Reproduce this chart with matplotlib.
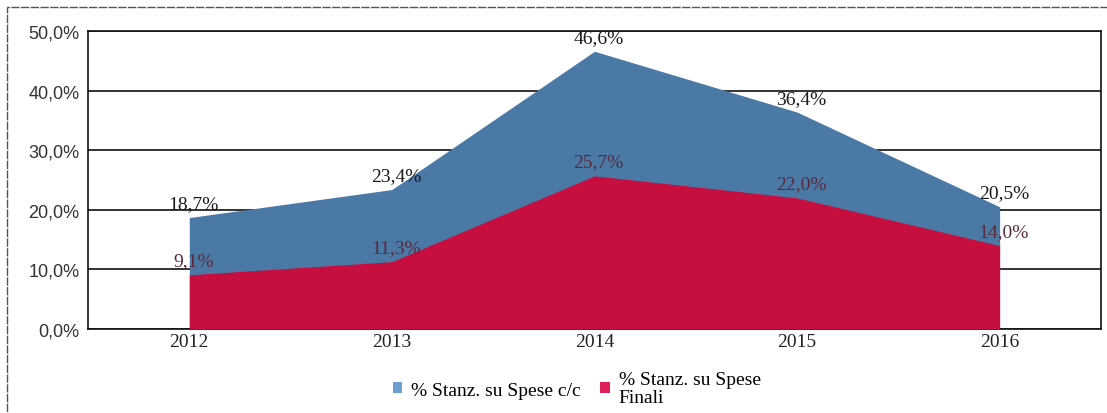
import numpy as np
import matplotlib
matplotlib.use('Agg')
import matplotlib.pyplot as plt
from matplotlib.patches import Rectangle, Patch

years = ['2012', '2013', '2014', '2015', '2016']
spese_cc = [18.7, 23.4, 46.6, 36.4, 20.5]
spese_finali = [9.1, 11.3, 25.7, 22.0, 14.0]
y_ticks = [0, 10, 20, 30, 40, 50]

blue = '#4b79a6'
red = '#c70f3f'
serif = 'Liberation Serif'

fig = plt.figure(figsize=(11.07, 4.14), dpi=100)
ax = fig.add_axes([0.0795, 0.2029, 0.915, 0.7198])

x = np.arange(len(years))
ax.fill_between(x, 0, spese_cc, color=blue, linewidth=0, zorder=2)
ax.fill_between(x, 0, spese_finali, color=red, linewidth=0, zorder=3)

ax.set_xlim(-0.5, len(years) - 0.5)
ax.set_ylim(0, 50)
ax.set_yticks(y_ticks)
ax.set_yticklabels([f'{v:.1f}%'.replace('.', ',') for v in y_ticks],
                   fontsize=13, family='Liberation Sans', color='#333333')
ax.set_xticks(x)
ax.set_xticklabels(years, fontsize=14, family=serif, color='#222222')
ax.tick_params(axis='x', length=0, pad=3)
ax.tick_params(axis='y', length=0, pad=6)
ax.grid(axis='y', color='#111111', linewidth=1.2, zorder=1)
ax.set_axisbelow(True)
for side in ['left', 'bottom', 'right', 'top']:
    ax.spines[side].set_color('#111111')
    ax.spines[side].set_linewidth(1.2)

# data labels, centred just above each point
for i, v in enumerate(spese_cc):
    ax.annotate(f'{v:.1f}%'.replace('.', ','), (x[i], v), xytext=(3, 10),
                textcoords='offset points', ha='center', va='center',
                fontsize=14, family=serif, color='#1a1a1a', zorder=5)
for i, v in enumerate(spese_finali):
    ax.annotate(f'{v:.1f}%'.replace('.', ','), (x[i], v), xytext=(3, 10),
                textcoords='offset points', ha='center', va='center',
                fontsize=14, family=serif, color='#5a2a3a', zorder=5)

handles = [Patch(facecolor='#6f9fd0', edgecolor='none'),
           Patch(facecolor='#e0205a', edgecolor='none')]
leg = fig.legend(handles, ['% Stanz. su Spese c/c', '% Stanz. su Spese\nFinali'],
                 loc='center', bbox_to_anchor=(0.521, 0.06), ncol=2, frameon=False,
                 prop={'family': serif, 'size': 14}, handlelength=0.5, handleheight=0.5,
                 handletextpad=0.45, columnspacing=1.0, borderaxespad=0, borderpad=0)
for t in leg.get_texts():
    t.set_linespacing(1.1)

# outer frame of the scanned chart
fig.patches.append(Rectangle((0.0065, -0.05), 1.1, 1.03, transform=fig.transFigure,
                             fill=False, edgecolor='#555555', linewidth=1.0,
                             linestyle=(0, (6, 1))))

fig.savefig('out.png', dpi=100)
